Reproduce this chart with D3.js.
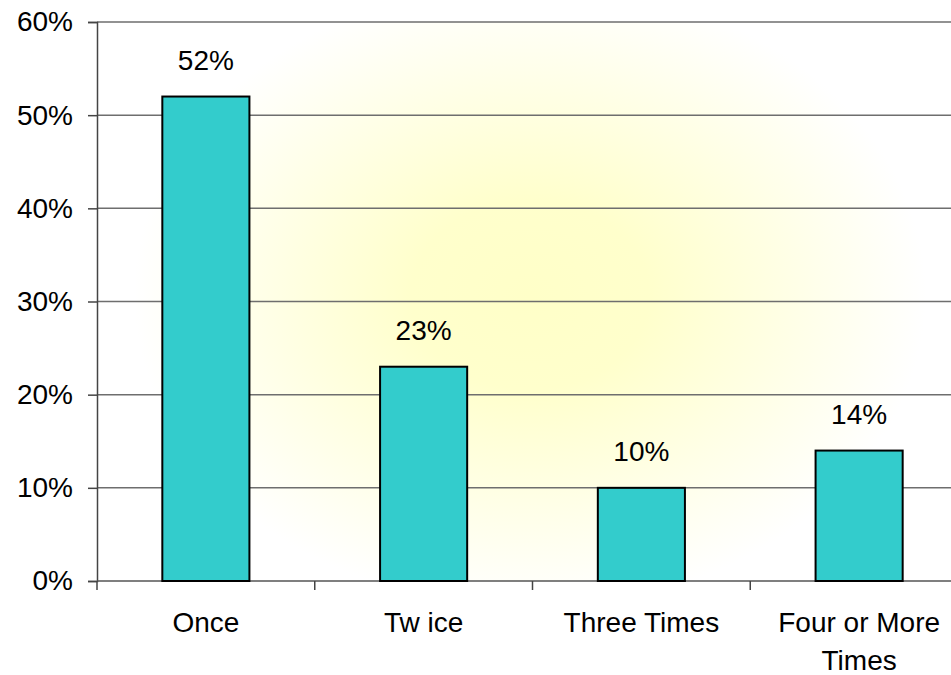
<!DOCTYPE html>
<html>
<head>
<meta charset="utf-8">
<script src="https://cdn.jsdelivr.net/npm/d3@7"></script>
<style>
  body { margin: 0; background: #fff; }
  svg { display: block; font-family: "Liberation Sans", Arial, sans-serif; }
</style>
</head>
<body>
<div id="chart"></div>
<script>
// 数据
const categories = ["Once", "Tw ice", "Three Times", "Four or More Times"];
const categoryLines = [["Once"], ["Tw ice"], ["Three Times"], ["Four or More", "Times"]];
const values = [52, 23, 10, 14];
const yTicks = [0, 10, 20, 30, 40, 50, 60];

const W = 951, H = 675;
const FS = "28px";
// plot runs past the right edge, like the cropped original
const margin = { left: 97, top: 22, right: 968, bottom: 581 };

const svg = d3.select("#chart").append("svg").attr("width", W).attr("height", H);

const x = d3.scaleBand().domain(categories).range([margin.left, margin.right]).paddingInner(0.6).paddingOuter(0.3);
const y = d3.scaleLinear().domain([0, 60]).range([margin.bottom, margin.top]);

// 背景渐变
const defs = svg.append("defs");
const grad = defs.append("radialGradient").attr("id", "bg")
    .attr("gradientUnits", "userSpaceOnUse")
    .attr("cx", 530).attr("cy", 295).attr("r", 330)
    .attr("gradientTransform", "translate(530,295) scale(1.2,0.95) translate(-530,-295)");
grad.append("stop").attr("offset", 0).attr("stop-color", "#ffffc8");
grad.append("stop").attr("offset", 0.3).attr("stop-color", "#ffffcc");
grad.append("stop").attr("offset", 1).attr("stop-color", "#ffffff");

svg.append("rect")
    .attr("x", margin.left).attr("y", margin.top)
    .attr("width", W - margin.left).attr("height", margin.bottom - margin.top)
    .attr("fill", "url(#bg)");

// 网格线
svg.append("g").selectAll("line").data(yTicks.filter(d => d > 0)).join("line")
    .attr("x1", margin.left).attr("x2", W)
    .attr("y1", d => y(d)).attr("y2", d => y(d))
    .attr("stroke", "#6e6e6e").attr("stroke-width", 1.5);

// y 轴
const yAxis = svg.append("g").attr("transform", `translate(${margin.left},0)`)
    .call(d3.axisLeft(y).tickValues(yTicks).tickFormat(d => d + "%").tickSize(9).tickPadding(15));
yAxis.select(".domain").attr("stroke", "#444").attr("stroke-width", 1.5);
yAxis.selectAll(".tick line").attr("stroke", "#444").attr("stroke-width", 1.5);
yAxis.selectAll("text").style("font-size", FS).attr("fill", "#000")
    .style("font-family", "Liberation Sans, Arial, sans-serif");

// x 轴
const step = x.step();
const xTickPos = d3.range(0, categories.length).map(i => margin.left + i * step);
svg.append("line").attr("x1", margin.left).attr("x2", W)
    .attr("y1", margin.bottom).attr("y2", margin.bottom)
    .attr("stroke", "#555").attr("stroke-width", 1.5);
svg.append("g").selectAll("line").data(xTickPos).join("line")
    .attr("x1", d => d).attr("x2", d => d)
    .attr("y1", margin.bottom).attr("y2", margin.bottom + 9)
    .attr("stroke", "#444").attr("stroke-width", 1.5);

// 柱子
svg.append("g").selectAll("rect").data(values).join("rect")
    .attr("x", (d, i) => x(categories[i]))
    .attr("y", d => y(d))
    .attr("width", x.bandwidth())
    .attr("height", d => y(0) - y(d))
    .attr("fill", "#33cccc")
    .attr("stroke", "#000").attr("stroke-width", 2);

// 数值标签
svg.append("g").selectAll("text").data(values).join("text")
    .attr("x", (d, i) => x(categories[i]) + x.bandwidth() / 2)
    .attr("y", d => y(d) - 27)
    .attr("text-anchor", "middle")
    .style("font-size", FS)
    .text(d => d + "%");

// 类别标签
const catG = svg.append("g").selectAll("text").data(categories).join("text")
    .attr("x", d => x(d) + x.bandwidth() / 2)
    .attr("y", 632)
    .attr("text-anchor", "middle")
    .style("font-size", FS);
catG.selectAll("tspan").data((d, i) => categoryLines[i]).join("tspan")
    .attr("x", function() { return d3.select(this.parentNode).attr("x"); })
    .attr("dy", (d, i) => i === 0 ? 0 : 38)
    .text(d => d);
</script>
</body>
</html>
